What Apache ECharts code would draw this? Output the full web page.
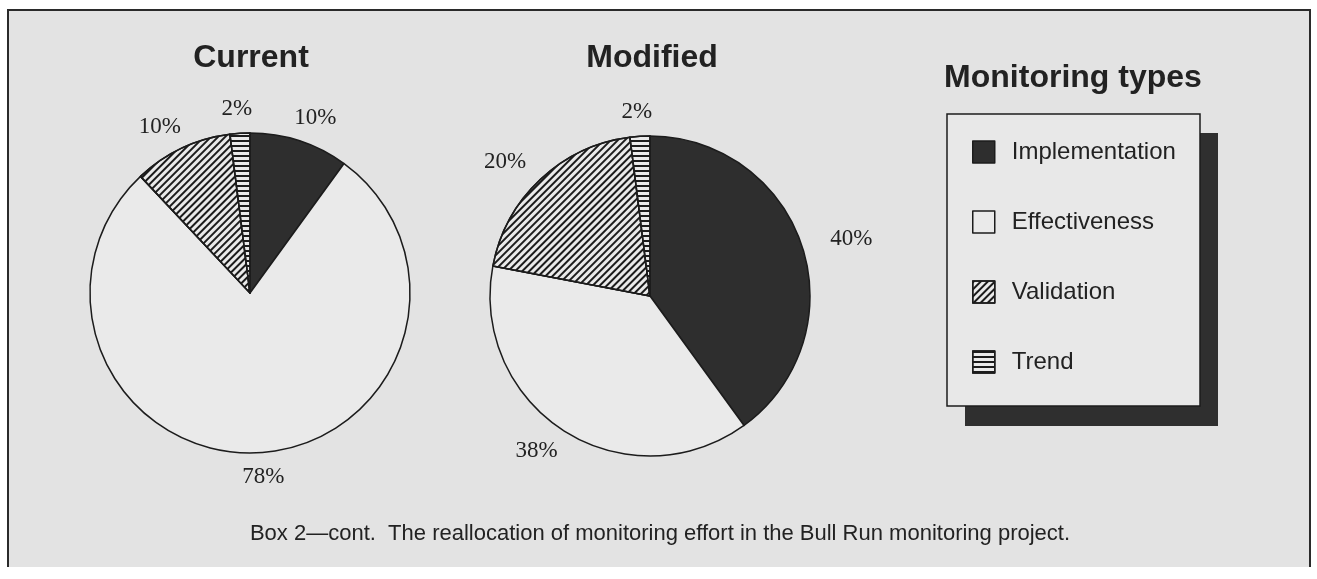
<!DOCTYPE html>
<html>
<head>
<meta charset="utf-8">
<title>Monitoring effort</title>
<script src="https://cdn.jsdelivr.net/npm/echarts@6/dist/echarts.min.js"></script>
<style>
  html, body { margin: 0; padding: 0; background: #fff; }
  #chart { width: 1317px; height: 579px; }
</style>
</head>
<body>
<div id="chart"></div>
<script>
const typeNames = ['Implementation', 'Effectiveness', 'Validation', 'Trend']
const currentShare = [10, 78, 10, 2]
const modifiedShare = [40, 38, 20, 2]

const paper = '#e3e3e3'
const light = '#eaeaea'
const ink = '#1c1c1c'
const pieCenters = [[250, 293], [650, 296]]

// fill + hatch for each monitoring type
const typeStyles = [
  { color: '#2e2e2e' },
  { color: light },
  {
    color: light,
    decal: {
      symbol: 'rect',
      symbolSize: 1,
      color: ink,
      dashArrayX: [[1, 0]],
      dashArrayY: [1.6, 2.8],
      rotation: -Math.PI / 4
    }
  },
  {
    color: light,
    decal: {
      symbol: 'rect',
      symbolSize: 1,
      color: ink,
      dashArrayX: [[1, 0]],
      dashArrayY: [1.5, 2.5],
      rotation: 0
    }
  }
]

const toData = values => values.map((v, i) => ({
  name: typeNames[i],
  value: v,
  itemStyle: typeStyles[i]
}))

// centre the percentage on its anchor and push it a bit further out sideways
const spreadLabel = params => {
  const rect = params.labelRect
  const anchorX = params.align === 'right' ? rect.x + rect.width : rect.x
  const cx = pieCenters[params.seriesIndex][0]
  return { align: 'center', dx: (anchorX - cx) * 0.15, dy: 0 }
}

const pieBase = {
  type: 'pie',
  radius: 160,
  startAngle: 90,
  clockwise: true,
  avoidLabelOverlap: false,
  emphasis: { disabled: true },
  itemStyle: {
    borderColor: ink,
    borderWidth: 1.5
  },
  label: {
    show: true,
    position: 'outside',
    formatter: '{c}%',
    fontFamily: 'Liberation Serif',
    fontSize: 23,
    color: '#222',
    distanceToLabelLine: 0
  },
  labelLine: {
    show: false,
    length: 24,
    length2: 0
  },
  labelLayout: spreadLabel
}

const chart = echarts.init(document.getElementById('chart'))

chart.setOption({
  animation: false,
  graphic: [
    {
      type: 'rect',
      shape: { x: 8, y: 10, width: 1302, height: 557 },
      style: { fill: paper }
    },
    {
      type: 'polyline',
      shape: { points: [[8, 567], [8, 10], [1310, 10], [1310, 567]] },
      style: { fill: null, stroke: '#2a2a2a', lineWidth: 2 }
    },
    {
      type: 'rect',
      shape: { x: 965, y: 133, width: 253, height: 293 },
      style: { fill: '#2f2f2f' }
    },
    {
      type: 'rect',
      shape: { x: 947, y: 114, width: 253, height: 292 },
      style: { fill: '#e8e8e8', stroke: ink, lineWidth: 1.5 }
    },
    {
      type: 'text',
      x: 251, y: 58,
      style: {
        text: 'Current', fontFamily: 'Liberation Sans', fontWeight: 'bold',
        fontSize: 32, fill: '#222', align: 'center', verticalAlign: 'middle'
      }
    },
    {
      type: 'text',
      x: 652, y: 58,
      style: {
        text: 'Modified', fontFamily: 'Liberation Sans', fontWeight: 'bold',
        fontSize: 32, fill: '#222', align: 'center', verticalAlign: 'middle'
      }
    },
    {
      type: 'text',
      x: 1073, y: 78,
      style: {
        text: 'Monitoring types', fontFamily: 'Liberation Sans', fontWeight: 'bold',
        fontSize: 32, fill: '#222', align: 'center', verticalAlign: 'middle'
      }
    },
    {
      type: 'text',
      x: 660, y: 534,
      style: {
        text: 'Box 2\u2014cont.  The reallocation of monitoring effort in the Bull Run monitoring project.',
        fontFamily: 'Liberation Sans', fontSize: 22,
        fill: '#222', align: 'center', verticalAlign: 'middle'
      }
    }
  ],
  legend: {
    data: typeNames,
    orient: 'vertical',
    left: 972,
    top: 140,
    padding: 0,
    itemWidth: 22,
    itemHeight: 22,
    itemGap: 46,
    icon: 'rect',
    selectedMode: false,
    itemStyle: {
      borderColor: ink,
      borderWidth: 1.5
    },
    textStyle: {
      fontFamily: 'Liberation Sans',
      fontSize: 24,
      color: '#222',
      padding: [0, 0, 0, 12]
    }
  },
  series: [
    {
      ...pieBase,
      name: 'Current',
      center: pieCenters[0],
      data: toData(currentShare)
    },
    {
      ...pieBase,
      name: 'Modified',
      center: pieCenters[1],
      data: toData(modifiedShare)
    }
  ]
})
</script>
</body>
</html>
